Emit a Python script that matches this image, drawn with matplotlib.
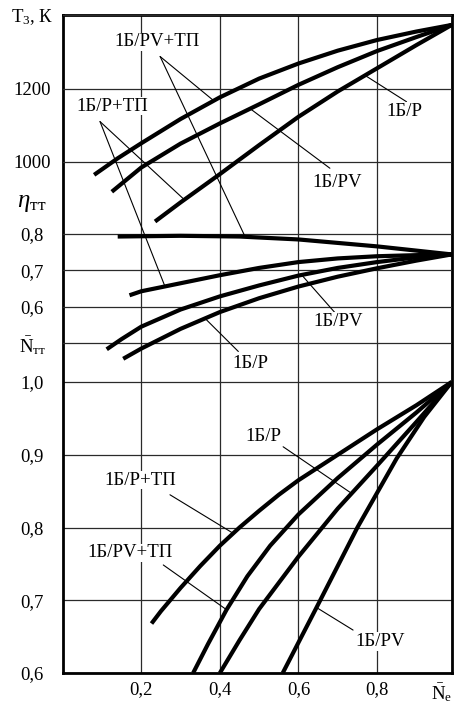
import matplotlib
matplotlib.use('Agg')
import matplotlib.pyplot as plt

plt.rcParams['font.family'] = ['Liberation Serif', 'DejaVu Serif']
plt.rcParams['mathtext.fontset'] = 'custom'
plt.rcParams['mathtext.rm'] = 'Liberation Serif'
plt.rcParams['mathtext.it'] = 'Liberation Serif:italic'
plt.rcParams['mathtext.bf'] = 'Liberation Serif:bold'

# --- T3, K (upper scale)
ne_T_pvtp = [0.08, 0.14, 0.2, 0.3, 0.4, 0.5, 0.6, 0.7, 0.8, 0.9, 0.99]
T_pvtp = [965, 1010, 1051, 1117, 1176, 1227, 1268, 1303, 1332, 1355, 1373]
ne_T_pv = [0.125, 0.2, 0.3, 0.4, 0.5, 0.6, 0.7, 0.8, 0.9, 0.99]
T_pv = [919, 985, 1050, 1105, 1157, 1210, 1258, 1302, 1340, 1373]
ne_T_p = [0.235, 0.3, 0.4, 0.5, 0.6, 0.7, 0.8, 0.9, 0.99]
T_p = [838, 890, 967, 1046, 1123, 1192, 1255, 1318, 1373]

# --- eta_tt (middle scale)
ne_eta_pvtp = [0.14, 0.3, 0.45, 0.6, 0.8, 0.99]
eta_pvtp = [0.793, 0.795, 0.793, 0.785, 0.766, 0.744]
ne_eta_ptp = [0.17, 0.2, 0.3, 0.4, 0.5, 0.6, 0.7, 0.8, 0.9, 0.99]
eta_ptp = [0.632, 0.643, 0.665, 0.687, 0.707, 0.723, 0.733, 0.739, 0.742, 0.744]
ne_eta_pv = [0.112, 0.15, 0.2, 0.3, 0.4, 0.5, 0.6, 0.7, 0.8, 0.9, 0.99]
eta_pv = [0.484, 0.512, 0.546, 0.593, 0.629, 0.659, 0.686, 0.707, 0.723, 0.736, 0.744]
ne_eta_p = [0.154, 0.2, 0.3, 0.4, 0.5, 0.6, 0.7, 0.8, 0.9, 0.99]
eta_p = [0.458, 0.486, 0.54, 0.586, 0.624, 0.656, 0.683, 0.706, 0.727, 0.744]

# --- N_tt (lower scale)
ne_N_ptp = [0.226, 0.25, 0.3, 0.35, 0.4, 0.45, 0.5, 0.55, 0.6, 0.7, 0.8, 0.9, 0.99]
N_ptp = [0.668, 0.685, 0.717, 0.747, 0.775, 0.8, 0.823, 0.845, 0.865, 0.9, 0.935, 0.968, 1.0]
ne_N_pvtp = [0.332, 0.37, 0.417, 0.47, 0.528, 0.6, 0.7, 0.8, 0.9, 0.99]
N_pvtp = [0.6, 0.64, 0.687, 0.733, 0.775, 0.818, 0.868, 0.914, 0.958, 1.0]
ne_N_p = [0.4, 0.45, 0.5, 0.6, 0.7, 0.8, 0.9, 0.99]
N_p = [0.6, 0.645, 0.688, 0.76, 0.826, 0.885, 0.945, 1.0]
ne_N_pv = [0.56, 0.646, 0.75, 0.85, 0.92, 0.99]
N_pv = [0.6, 0.69, 0.8, 0.895, 0.952, 1.0]

x_ticks = [0.2, 0.4, 0.6, 0.8, 0.99]
x_labels = ['0,2', '0,4', '0,6', '0,8', r'$\bar{\mathrm{N}}_{\mathrm{e}}$']
N_ticks = [0.6, 0.7, 0.8, 0.9, 1.0]
N_labels = ['0,6', '0,7', '0,8', '0,9', '1,0']
eta_ticks = [0.5, 0.6, 0.7, 0.8]
eta_labels = [r'$\bar{\mathrm{N}}_{\mathrm{тт}}$', '0,6', '0,7', '0,8']
T_ticks = [1000, 1200, 1400]
T_labels = ['1000', '1200', r'$\mathrm{T_3}$, К']

gc = '#2a2a2a'
fs = 13.5

fig = plt.figure(figsize=(4.62, 7.05), dpi=100)
rect = [0.1357, 0.0454, 0.842, 0.9333]
ax = fig.add_axes(rect)
ax_eta = fig.add_axes(rect, sharex=ax)
ax_T = fig.add_axes(rect, sharex=ax)

for a in (ax_eta, ax_T):
    a.patch.set_visible(False)
    for s in a.spines.values():
        s.set_visible(False)
    a.xaxis.set_visible(False)

for s in ax.spines.values():
    s.set_linewidth(2.0)

ax.set_xlim(0, 0.99)
ax.set_ylim(0.6, 1.5045)
ax_eta.set_ylim(-0.403, 1.4)
ax_T.set_ylim(-390.7, 1400)

ax.set_xticks(x_ticks)
ax.set_xticklabels(x_labels)
ax.set_yticks(N_ticks)
ax.set_yticklabels(N_labels)
ax_eta.set_yticks(eta_ticks)
ax_eta.set_yticklabels(eta_labels)
ax_T.set_yticks(T_ticks)
ax_T.set_yticklabels(T_labels)

ax.grid(True, color=gc, lw=0.9)
ax_eta.grid(True, axis='y', color=gc, lw=0.9)
ax_T.grid(True, axis='y', color=gc, lw=0.9)

for a in (ax, ax_eta, ax_T):
    a.tick_params(axis='y', length=0, pad=22, labelsize=fs)
    for lbl in a.get_yticklabels():
        lbl.set_horizontalalignment('center')
ax.tick_params(axis='x', length=0, pad=6, labelsize=fs)
# last x label (N_e) sits a bit left so it stays inside the picture
ax.get_xticklabels()[-1].set_horizontalalignment('right')
ax.get_xticklabels()[-1].set_x(0.99)

curve = dict(color='black', lw=3.0, solid_capstyle='butt', solid_joinstyle='round', zorder=3)
ax_T.plot(ne_T_pvtp, T_pvtp, **curve)
ax_T.plot(ne_T_pv, T_pv, **curve)
ax_T.plot(ne_T_p, T_p, **curve)
ax_eta.plot(ne_eta_pvtp, eta_pvtp, **curve)
ax_eta.plot(ne_eta_ptp, eta_ptp, **curve)
ax_eta.plot(ne_eta_pv, eta_pv, **curve)
ax_eta.plot(ne_eta_p, eta_p, **curve)
ax.plot(ne_N_ptp, N_ptp, **curve)
ax.plot(ne_N_pvtp, N_pvtp, **curve)
ax.plot(ne_N_p, N_p, **curve)
ax.plot(ne_N_pv, N_pv, **curve)

ax_eta.text(-0.079, 0.885, r'$\eta_{\mathrm{тт}}$', transform=ax_eta.get_yaxis_transform(),
            ha='center', va='center', fontsize=18)

tT, tE, tN = ax_T.transData, ax_eta.transData, ax.transData

# leader lines: start, end, transform of start, transform of end
leaders = [
    ((0.248, 1287), (0.383, 1168), tT, tT),
    ((0.248, 1287), (0.464, 0.793), tT, tE),
    ((0.095, 1110), (0.307, 900), tT, tT),
    ((0.095, 1110), (0.26, 0.657), tT, tE),
    ((0.875, 1164), (0.769, 1236), tT, tT),
    ((0.680, 983), (0.476, 1146), tT, tT),
    ((0.694, 0.583), (0.608, 0.688), tE, tE),
    ((0.447, 0.478), (0.362, 0.569), tE, tE),
    ((0.561, 0.911), (0.735, 0.847), tN, tN),
    ((0.273, 0.845), (0.434, 0.792), tN, tN),
    ((0.256, 0.7485), (0.417, 0.687), tN, tN),
    ((0.739, 0.659), (0.646, 0.69), tN, tN),
]
for p0, p1, tr0, tr1 in leaders:
    ax_T.annotate('', xy=p1, xycoords=tr1, xytext=p0, textcoords=tr0,
                  arrowprops=dict(arrowstyle='-', lw=0.8, color='black',
                                  shrinkA=0, shrinkB=0), zorder=4)

labels = [
    ('1Б/PV+ТП', (0.239, 1327), tT),
    ('1Б/P+ТП', (0.127, 1152), tT),
    ('1Б/P', (0.870, 1137), tT),
    ('1Б/PV', (0.699, 944), tT),
    ('1Б/PV', (0.701, 0.560), tE),
    ('1Б/P', (0.477, 0.446), tE),
    ('1Б/P', (0.510, 0.925), tN),
    ('1Б/P+ТП', (0.197, 0.865), tN),
    ('1Б/PV+ТП', (0.171, 0.765), tN),
    ('1Б/PV', (0.807, 0.643), tN),
]
for s, (x, y), tr in labels:
    ax_T.text(x, y, s, transform=tr, ha='center', va='center', fontsize=fs,
              bbox=dict(fc='white', ec='none', pad=0.6), zorder=5)

fig.savefig('out.png', dpi=100)
